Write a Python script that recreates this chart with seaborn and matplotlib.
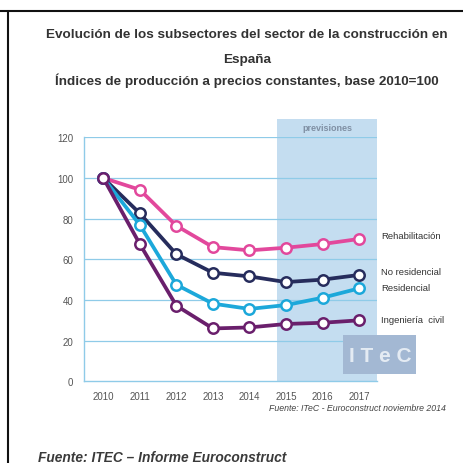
import matplotlib
matplotlib.use("Agg")
import matplotlib.pyplot as plt
import seaborn as sns
import pandas as pd
from matplotlib.patches import Rectangle

years = [2010, 2011, 2012, 2013, 2014, 2015, 2016, 2017]
rehabilitacion = [100, 94.2, 76.5, 66.0, 64.4, 65.7, 67.5, 70.0]
no_residencial = [100, 82.6, 62.5, 53.4, 51.6, 48.8, 50.0, 52.3]
residencial = [100, 76.9, 47.5, 38.2, 35.6, 37.5, 41.1, 45.7]
ingenieria_civil = [100, 67.5, 37.2, 26.0, 26.5, 28.2, 28.8, 30.0]
series_names = ["Rehabilitación", "No residencial", "Residencial", "Ingeniería  civil"]
y_ticks = [0, 20, 40, 60, 80, 100, 120]

colors = ["#e2489c", "#262c5c", "#1ca8da", "#6a1f6c"]

df = pd.concat([
    pd.DataFrame({"year": years, "value": vals, "serie": name})
    for name, vals in zip(series_names, [rehabilitacion, no_residencial, residencial, ingenieria_civil])
])

sns.set_style("white")
plt.rcParams["font.family"] = ["Liberation Sans", "DejaVu Sans"]

fig = plt.figure(figsize=(4.63, 4.64), dpi=100)
ax = fig.add_axes([0.182, 0.176, 0.633, 0.526])

# forecast shading
ax.add_patch(Rectangle((2014.75, 0), 2017.5 - 2014.75, 128.9, facecolor="#c4ddf0",
                       edgecolor="none", clip_on=False, zorder=0))
ax.text((2014.75 + 2017.5) / 2, 124.6, "previsiones", ha="center", va="center",
        fontsize=6.5, color="#7f8fa3", fontweight="bold")

for yv in y_ticks[1:]:
    ax.axhline(yv, color="#8fcbe8", lw=0.9, zorder=1)

sns.lineplot(data=df, x="year", y="value", hue="serie", palette=colors, ax=ax,
             marker="o", markersize=7.5, markerfacecolor="white", markeredgewidth=1.8,
             linewidth=2.7, legend=False, zorder=3, sort=False)
for line, c in zip(ax.lines[-4:], colors):
    line.set_markeredgecolor(c)

ax.set_xlim(2009.48, 2017.5)
ax.set_ylim(0, 120)
ax.set_xticks(years)
ax.set_xticklabels([str(y) for y in years])
ax.set_yticks(y_ticks)
ax.set_xlabel("")
ax.set_ylabel("")
ax.tick_params(axis="both", length=0, labelsize=7, colors="#555555")
ax.tick_params(axis="x", pad=7)
ax.tick_params(axis="y", pad=8)
for s in ["top", "right"]:
    ax.spines[s].set_visible(False)
for s in ["left", "bottom"]:
    ax.spines[s].set_color("#8fcbe8")
    ax.spines[s].set_linewidth(1.0)

# right labels
label_y = [236.7, 272.7, 289.0, 320.7]
for name, ypx in zip(series_names, label_y):
    fig.text(381 / 463, 1 - ypx / 464, name, ha="left", va="center", fontsize=6.8, color="#333333")

# ITeC logo box
fig.patches.append(Rectangle((343 / 463, 1 - 375 / 464), 73 / 463, 39 / 464,
                             transform=fig.transFigure, facecolor="#a3b8d3", edgecolor="none", zorder=5))
fig.text(380 / 463, 1 - 356 / 464, "I T e C", ha="center", va="center", fontsize=15,
         fontweight="bold", color="#e4ebf3", zorder=6)

# titles
tkw = dict(ha="center", va="center", fontsize=9.7, fontweight="bold", color="#333333")
fig.text(247 / 463, 1 - 35 / 464, "Evolución de los subsectores del sector de la construcción en", **tkw)
fig.text(247 / 463, 1 - 60 / 464, "España", **tkw)
fig.text(247 / 463, 1 - 81 / 464, "Índices de producción a precios constantes, base 2010=100", **tkw)

fig.text(446 / 463, 1 - 409 / 464, "Fuente: ITeC - Euroconstruct noviembre 2014", ha="right",
         va="center", fontsize=6.3, style="italic", color="#444444")
fig.text(38 / 463, 1 - 458 / 464, "Fuente: ITEC – Informe Euroconstruct", ha="left",
         va="center", fontsize=9.9, style="italic", fontweight="bold", color="#3a3a3a")

# frame lines
fig.add_artist(plt.Line2D([0, 1], [1 - 12 / 464, 1 - 12 / 464], transform=fig.transFigure,
                          color="#111111", lw=1.5))
fig.add_artist(plt.Line2D([8 / 463, 8 / 463], [0, 1 - 12 / 464], transform=fig.transFigure,
                          color="#111111", lw=1.5))

fig.savefig("out.png", dpi=100, facecolor="white")
